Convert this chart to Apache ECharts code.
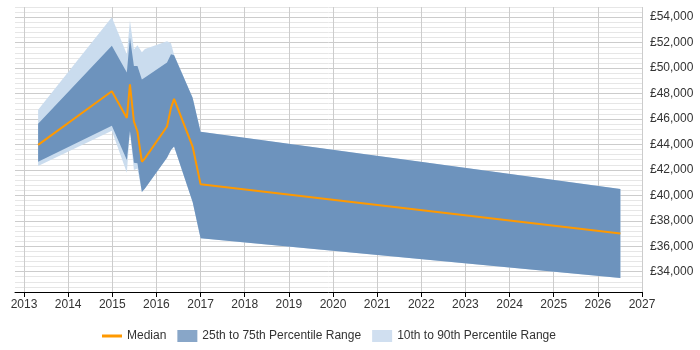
<!DOCTYPE html>
<html>
<head>
<meta charset="utf-8">
<script src="https://cdn.jsdelivr.net/npm/echarts@6/dist/echarts.min.js"></script>
<style>
    html, body {margin: 0; padding: 0; background: #fff;}
    #chart {width: 700px; height: 350px;}
</style>
</head>
<body>
<div id="chart"></div>
<script>
    // points in time (decimal years)
    var years = [2013.32, 2014.99, 2015.33, 2015.40, 2015.49, 2015.57, 2015.67, 2015.74, 2016.24, 2016.33, 2016.40, 2016.82, 2017.0, 2026.51];
    var median = [43960, 48180, 46080, 48720, 45800, 45010, 42640, 42900, 45410, 46870, 47580, 43830, 40870, 37000];
    var p25 = [42640, 45470, 42770, 45050, 42560, 42510, 40260, 40530, 42950, 43560, 43830, 39470, 36620, 33500];
    var p75 = [45620, 51750, 49650, 52420, 50170, 50170, 49110, 49250, 50430, 51090, 51010, 47660, 45000, 40500];
    var p10 = [42300, 45070, 41770, 45050, 41980, 42110, 40260, 40530, 42950, 43560, 43830, 39470, 36620, 33500];
    var p90 = [46730, 54000, 51090, 53730, 51450, 51800, 51250, 51500, 52100, 51950, 51050, 47660, 45000, 40500];

    var font = 'Liberation Sans, Arial, sans-serif';
    var orange = '#ff9900', darkBand = '#6d93bd', lightBand = '#cadcee';

    var pairs = function (vals) {
        return vals.map(function (v, i) { return [years[i], v]; });
    };
    // value first so the stack works on y, not on the (value) x axis
    var rows = function (vals) {
        return vals.map(function (v, i) { return [v, years[i]]; });
    };
    var diffRows = function (hi, lo) {
        return hi.map(function (v, i) { return [v - lo[i], years[i]]; });
    };
    var bandLine = {width: 0, opacity: 0};
    var swap = {x: 1, y: 0};

    var option = {
        animation: false,
        textStyle: {fontFamily: font},
        grid: [
            {left: 15, right: 58, top: 7, bottom: 58},
            {left: 24, right: 58, top: 7, bottom: 58}
        ],
        xAxis: [{
            type: 'value', gridIndex: 0, min: 2012.8, max: 2027,
            axisLine: {lineStyle: {color: '#000', width: 1}},
            axisTick: {show: false},
            axisLabel: {show: false},
            splitLine: {show: false}
        }, {
            type: 'value', gridIndex: 1, min: 2013, max: 2027, interval: 1,
            axisLine: {show: false},
            axisTick: {show: true, length: 5, lineStyle: {color: '#000'}},
            axisLabel: {
                color: '#333', fontSize: 12, fontFamily: font, margin: 7,
                formatter: function (v) { return String(Math.round(v)); }
            },
            splitLine: {show: true, lineStyle: {color: '#cccccc'}}
        }],
        yAxis: [{
            type: 'value', gridIndex: 0, position: 'right', min: 32400, max: 54800, interval: 400,
            axisLine: {show: false},
            axisTick: {show: false},
            axisLabel: {
                color: '#333', fontSize: 12, fontFamily: font, margin: 8,
                formatter: function (v) {
                    v = Math.round(v);
                    if (v % 2000 !== 0) return '';
                    return '£' + v.toLocaleString('en-GB');
                }
            },
            splitLine: {lineStyle: {color: ['#e6e6e6', '#e6e6e6', '#e6e6e6', '#e6e6e6', '#cccccc']}}
        }, {
            type: 'value', gridIndex: 1, min: 32400, max: 54800, show: false
        }],
        legend: {
            left: 97, top: 325,
            itemWidth: 20, itemHeight: 12, itemGap: 11,
            textStyle: {color: '#333', fontSize: 12, fontFamily: font},
            data: [
                {name: 'Median', icon: 'path://M0,0H20V3H0Z', itemStyle: {color: orange}},
                {name: '25th to 75th Percentile Range', icon: 'rect', itemStyle: {color: '#88a6c8'}},
                {name: '10th to 90th Percentile Range', icon: 'rect', itemStyle: {color: '#d0dff0'}}
            ]
        },
        series: [{
            name: 'p10', type: 'line', xAxisIndex: 1, yAxisIndex: 1, stack: 'outer', encode: swap,
            symbol: 'none', lineStyle: bandLine, data: rows(p10)
        }, {
            name: '10th to 90th Percentile Range', type: 'line', xAxisIndex: 1, yAxisIndex: 1, stack: 'outer', encode: swap,
            symbol: 'none', lineStyle: bandLine, itemStyle: {color: lightBand},
            areaStyle: {color: lightBand, opacity: 1}, data: diffRows(p90, p10)
        }, {
            name: 'p25', type: 'line', xAxisIndex: 1, yAxisIndex: 1, stack: 'inner', encode: swap,
            symbol: 'none', lineStyle: bandLine, data: rows(p25)
        }, {
            name: '25th to 75th Percentile Range', type: 'line', xAxisIndex: 1, yAxisIndex: 1, stack: 'inner', encode: swap,
            symbol: 'none', lineStyle: bandLine, itemStyle: {color: darkBand},
            areaStyle: {color: darkBand, opacity: 1}, data: diffRows(p75, p25)
        }, {
            name: 'Median', type: 'line', xAxisIndex: 1, yAxisIndex: 1,
            symbol: 'none', itemStyle: {color: orange},
            lineStyle: {color: orange, width: 2}, data: pairs(median)
        }]
    };

    var chart = echarts.init(document.getElementById('chart'));
    chart.setOption(option);
</script>
</body>
</html>
